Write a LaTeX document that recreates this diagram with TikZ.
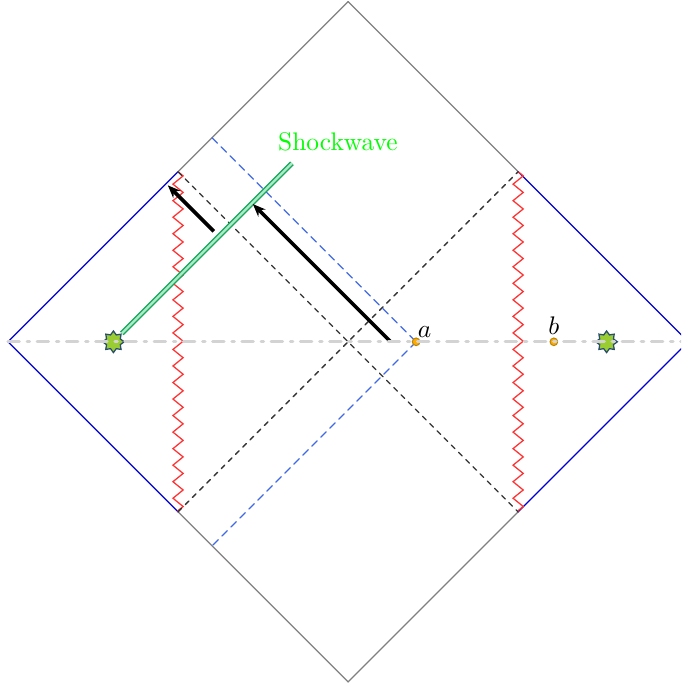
\documentclass[tikz,border=0pt]{standalone}
\usepackage{amsmath,amssymb}
\usepackage[svgnames]{xcolor}
\usepackage{tkz-euclide}
\usepackage{tikz}
\usetikzlibrary{positioning,arrows.meta,decorations.pathmorphing,shapes.geometric}

\definecolor{shockline}{RGB}{25,165,90}
\definecolor{shockfill}{RGB}{170,235,200}

\tikzset{
    bndry/.style={gray,line width=0.5pt},
    infty/.style={blue!80!black,line width=0.5pt},
    sing/.style={red!80,line width=0.5pt,decorate,
        decoration={zigzag,segment length=6.5pt,amplitude=2pt}},
    horizon/.style={black!80,line width=0.5pt,dash pattern=on 2pt off 2pt},
    shifted/.style={RoyalBlue,line width=0.5pt,dash pattern=on 3pt off 2pt},
    tslice/.style={LightGray,line width=1.2pt,dash pattern=on 4.5pt off 3pt on 1pt off 3pt},
    shock/.style={draw=shockline,line width=0.55pt,double=shockfill,double distance=0.9pt},
    signal/.style={black,line width=1.4pt,-{Stealth[length=5pt,width=4pt]}},
    source/.style={star,star points=8,star point ratio=1.45,minimum size=8.5pt,inner sep=0pt,
        fill=YellowGreen,draw=SteelBlue!60!black,line width=0.5pt},
    dot/.style={circle,minimum size=3pt,inner sep=0pt,fill=Orange!90!Gold,draw=DarkGoldenrod,line width=0.4pt}
}

\begin{document}
\begin{tikzpicture}[x=2.35cm,y=2.35cm]

        \useasboundingbox (-2.047,-2.03) rectangle (1.959,2.01);
        \clip (-2.047,-2.03) rectangle (1.959,2.01);

        \foreach \x/\y/\name in {-2/0/W,0/2/N,2/0/E,0/-2/S,-1/1/NW,1/1/NE,-1/-1/SW,1/-1/SE}
            { \tkzDefPoint(\x,\y){\name}}
        \foreach \x/\y/\name in {0.4/0/A,1.21/0/B,-0.8/1.2/C,-0.8/-1.2/D,-1.38/0/F,1.52/0/G,
            -0.33/1.05/H,0.25/0/I,-0.56/0.81/J,-0.79/0.65/K,-1.06/0.92/M}
            { \tkzDefPoint(\x,\y){\name}}

        \tkzDrawSegments[bndry](NW,N N,NE SW,S S,SE)
        \tkzDrawSegments[infty](W,NW W,SW E,NE E,SE)
        \draw[sing] (NW) -- (SW);
        \draw[sing] (NE) -- (SE);
        \tkzDrawSegments[horizon](NW,SE SW,NE)
        \tkzDrawSegments[shifted](C,A A,D)

        \node (src1) [source] at (F) {};
        \node (src2) [source] at (G) {};
        \draw[shock] (src1) -- (H);
        \node (lshock) [green,anchor=south] at (-0.06,1.07) {Shockwave};

        \draw[signal] (I) -- (J);
        \draw[signal] (K) -- (M);

        \node (a) [dot] at (A) {};
        \node (b) [dot] at (B) {};
        \node (la) [above right=1.5pt and 0.5pt of A,inner sep=0pt] {$a$};
        \node (lb) [above=2.5pt of B,inner sep=0pt] {$b$};

        \tkzDrawSegment[tslice](W,E)
    \end{tikzpicture}
\end{document}
